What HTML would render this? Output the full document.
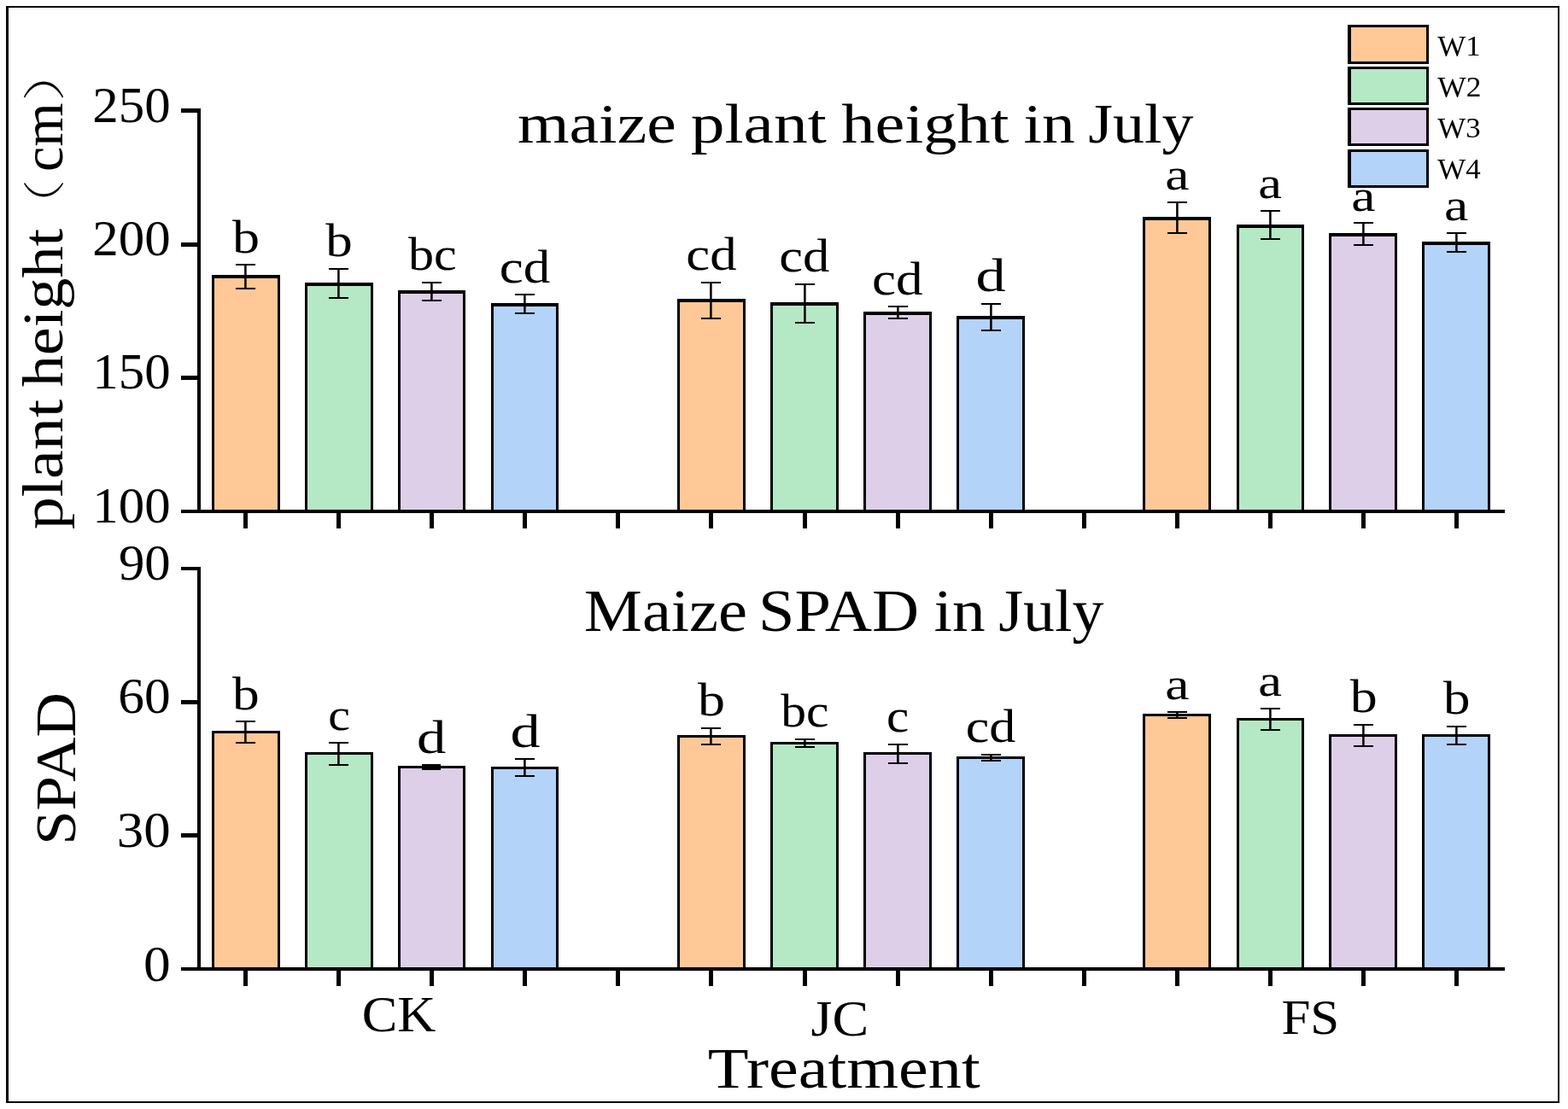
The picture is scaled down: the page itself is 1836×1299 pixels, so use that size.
<!DOCTYPE html>
<html lang="en"><head><meta charset="utf-8"><title>Maize plant height and SPAD in July</title>
<style>html,body{margin:0;padding:0;background:#fff}body{width:1836px;height:1299px;overflow:hidden}svg{display:block;font-family:'Liberation Serif', 'Noto Serif CJK SC', serif;fill:#000}</style>
</head><body>
<svg role="img" aria-label="Maize plant height and SPAD in July by treatment" width="1836" height="1299" viewBox="0 0 1836 1299" shape-rendering="crispEdges">
<rect x="0" y="0" width="1836" height="1299" fill="#fff"/>
<path d="M7 7H1826V1292H7ZM10 9V1290H1824V9Z" fill="#000" fill-rule="evenodd"/>
<g id="height">
<path d="M249 323H327V598H249ZM794 351H872V598H794ZM1339 255H1417V598H1339Z" fill="#FFC896"/>
<path d="M358 332H436V598H358ZM903 355H981V598H903ZM1449 264H1526V598H1449Z" fill="#B5E8C5"/>
<path d="M467 341H544V598H467ZM1012 366H1090V598H1012ZM1557 274H1635V598H1557Z" fill="#DDCFE8"/>
<path d="M576 356H653V598H576ZM1121 371H1199V598H1121ZM1666 284H1744V598H1666Z" fill="#B4D3F9"/>
<path d="M248 322H251V598H248ZM325 322H328V598H325ZM248 322H328V326H248ZM793 350H796V598H793ZM870 350H873V598H870ZM793 350H873V354H793ZM1338 254H1341V598H1338ZM1415 254H1418V598H1415ZM1338 254H1418V258H1338ZM357 331H360V598H357ZM434 331H437V598H434ZM357 331H437V335H357ZM902 354H905V598H902ZM979 354H982V598H979ZM902 354H982V358H902ZM1448 263H1451V598H1448ZM1524 263H1527V598H1524ZM1448 263H1527V267H1448ZM466 340H469V598H466ZM542 340H545V598H542ZM466 340H545V344H466ZM1011 365H1014V598H1011ZM1088 365H1091V598H1088ZM1011 365H1091V369H1011ZM1556 273H1559V598H1556ZM1633 273H1636V598H1633ZM1556 273H1636V277H1556ZM575 355H578V598H575ZM651 355H654V598H651ZM575 355H654V359H575ZM1120 370H1123V598H1120ZM1197 370H1200V598H1197ZM1120 370H1200V374H1120ZM1665 283H1668V598H1665ZM1742 283H1745V598H1742ZM1665 283H1745V287H1665ZM276 309H298.5V311H276ZM276 337H298.5V339H276ZM385 314H407.5V316H385ZM385 348H407.5V350H385ZM494 330H516.5V332H494ZM494 351H516.5V353H494ZM603 344H625.5V346H603ZM603 366H625.5V368H603ZM821 330H843.5V332H821ZM821 372H843.5V374H821ZM931 332H953.5V334H931ZM931 377H953.5V379H931ZM1040 358H1062.5V360H1040ZM1040 372H1062.5V374H1040ZM1149 355H1171.5V357H1149ZM1149 386H1171.5V388H1149ZM1367 236H1389.5V238H1367ZM1367 272H1389.5V274H1367ZM1476 246H1498.5V248H1476ZM1476 279H1498.5V281H1476ZM1585 260H1607.5V262H1585ZM1585 286H1607.5V288H1585ZM1694 272H1716.5V274H1694ZM1694 294H1716.5V296H1694ZM231 127H235V601H231ZM212 597H1762V601H212ZM212 127H235V132H212ZM212 284H235V289H212ZM212 440H235V445H212ZM285 600H290V619H285ZM394 600H399V619H394ZM503 600H508V619H503ZM612 600H617V619H612ZM721 600H726V619H721ZM830 600H835V619H830ZM940 600H945V619H940ZM1049 600H1054V619H1049ZM1158 600H1163V619H1158ZM1267 600H1272V619H1267ZM1376 600H1381V619H1376ZM1485 600H1490V619H1485ZM1594 600H1599V619H1594ZM1703 600H1708V619H1703Z" fill="#000"/>
<path d="M286.15 309H288.65V339H286.15ZM395.15 314H397.65V350H395.15ZM504.15 330H506.65V353H504.15ZM613.15 344H615.65V368H613.15ZM831.15 330H833.65V374H831.15ZM941.15 332H943.65V379H941.15ZM1050.15 358H1052.65V374H1050.15ZM1159.15 355H1161.65V388H1159.15ZM1377.15 236H1379.65V274H1377.15ZM1486.15 246H1488.65V281H1486.15ZM1595.15 260H1597.65V288H1595.15ZM1704.15 272H1706.65V296H1704.15Z" fill="#000" shape-rendering="geometricPrecision"/>
<text y="143.2" font-size="59.7"><tspan x="108.36" textLength="91.37" lengthAdjust="spacingAndGlyphs">250</tspan></text>
<text y="299.1" font-size="59.7"><tspan x="108.36" textLength="91.37" lengthAdjust="spacingAndGlyphs">200</tspan></text>
<text y="454.8" font-size="59.7"><tspan x="108.32" textLength="91.41" lengthAdjust="spacingAndGlyphs">150</tspan></text>
<text y="612.2" font-size="59.7"><tspan x="108.32" textLength="91.41" lengthAdjust="spacingAndGlyphs">100</tspan></text>
<text y="295.7" font-size="54.96"><tspan x="272" textLength="31.99" lengthAdjust="spacingAndGlyphs">b</tspan></text>
<text y="300.2" font-size="54.96"><tspan x="381.25" textLength="31.45" lengthAdjust="spacingAndGlyphs">b</tspan></text>
<text y="316.45" font-size="54.96"><tspan x="478" textLength="56.73" lengthAdjust="spacingAndGlyphs">bc</tspan></text>
<text y="330.71" font-size="53.9"><tspan x="584.79" textLength="59.59" lengthAdjust="spacingAndGlyphs">cd</tspan></text>
<text y="315.96" font-size="54.26"><tspan x="803.3" textLength="59.33" lengthAdjust="spacingAndGlyphs">cd</tspan></text>
<text y="317.95" font-size="54.61"><tspan x="912.31" textLength="59.07" lengthAdjust="spacingAndGlyphs">cd</tspan></text>
<text y="344.95" font-size="54.61"><tspan x="1021.04" textLength="59.59" lengthAdjust="spacingAndGlyphs">cd</tspan></text>
<text y="340.71" font-size="54.26"><tspan x="1142.54" textLength="35.16" lengthAdjust="spacingAndGlyphs">d</tspan></text>
<text y="222.48" font-size="52.08"><tspan x="1364.27" textLength="28.3" lengthAdjust="spacingAndGlyphs">a</tspan></text>
<text y="232.48" font-size="52.08"><tspan x="1473.31" textLength="27.74" lengthAdjust="spacingAndGlyphs">a</tspan></text>
<text y="246.98" font-size="52.08"><tspan x="1582.27" textLength="28.3" lengthAdjust="spacingAndGlyphs">a</tspan></text>
<text y="257.72" font-size="52.6"><tspan x="1691.02" textLength="28.3" lengthAdjust="spacingAndGlyphs">a</tspan></text>
</g>
<g id="spad">
<path d="M249 857H327V1134H249ZM794 862H872V1134H794ZM1339 837H1417V1134H1339Z" fill="#FFC896"/>
<path d="M358 882H436V1134H358ZM903 870H981V1134H903ZM1449 842H1526V1134H1449Z" fill="#B5E8C5"/>
<path d="M467 898H544V1134H467ZM1012 882H1090V1134H1012ZM1557 861H1635V1134H1557Z" fill="#DDCFE8"/>
<path d="M576 899H653V1134H576ZM1121 887H1199V1134H1121ZM1666 861H1744V1134H1666Z" fill="#B4D3F9"/>
<path d="M248 856H251V1134H248ZM325 856H328V1134H325ZM248 856H328V859H248ZM793 861H796V1134H793ZM870 861H873V1134H870ZM793 861H873V864H793ZM1338 836H1341V1134H1338ZM1415 836H1418V1134H1415ZM1338 836H1418V839H1338ZM357 881H360V1134H357ZM434 881H437V1134H434ZM357 881H437V884H357ZM902 869H905V1134H902ZM979 869H982V1134H979ZM902 869H982V872H902ZM1448 841H1451V1134H1448ZM1524 841H1527V1134H1524ZM1448 841H1527V844H1448ZM466 897H469V1134H466ZM542 897H545V1134H542ZM466 897H545V900H466ZM1011 881H1014V1134H1011ZM1088 881H1091V1134H1088ZM1011 881H1091V884H1011ZM1556 860H1559V1134H1556ZM1633 860H1636V1134H1633ZM1556 860H1636V863H1556ZM575 898H578V1134H575ZM651 898H654V1134H651ZM575 898H654V901H575ZM1120 886H1123V1134H1120ZM1197 886H1200V1134H1197ZM1120 886H1200V889H1120ZM1665 860H1668V1134H1665ZM1742 860H1745V1134H1742ZM1665 860H1745V863H1665ZM276 844H298.5V846H276ZM276 869H298.5V871H276ZM385 869H407.5V871H385ZM385 895H407.5V897H385ZM494 895H516V902H494ZM603 888H625.5V890H603ZM603 908H625.5V910H603ZM821 852H843.5V854H821ZM821 871H843.5V873H821ZM931 865H953.5V867H931ZM931 874H953.5V876H931ZM1040 871H1062.5V873H1040ZM1040 893H1062.5V895H1040ZM1149 883H1171.5V885H1149ZM1149 890H1171.5V892H1149ZM1367 833H1389.5V835H1367ZM1367 840H1389.5V842H1367ZM1476 829H1498.5V831H1476ZM1476 854H1498.5V856H1476ZM1585 848H1607.5V850H1585ZM1585 873H1607.5V875H1585ZM1694 850H1716.5V852H1694ZM1694 871H1716.5V873H1694ZM231 664H235V1137H231ZM212 1133H1762V1137H212ZM212 664H235V668H212ZM212 820H235V825H212ZM212 976H235V981H212ZM285 1136H290V1155H285ZM394 1136H399V1155H394ZM503 1136H508V1155H503ZM612 1136H617V1155H612ZM721 1136H726V1155H721ZM830 1136H835V1155H830ZM940 1136H945V1155H940ZM1049 1136H1054V1155H1049ZM1158 1136H1163V1155H1158ZM1267 1136H1272V1155H1267ZM1376 1136H1381V1155H1376ZM1485 1136H1490V1155H1485ZM1594 1136H1599V1155H1594ZM1703 1136H1708V1155H1703Z" fill="#000"/>
<path d="M286.15 844H288.65V871H286.15ZM395.15 869H397.65V897H395.15ZM613.15 888H615.65V910H613.15ZM831.15 852H833.65V873H831.15ZM941.15 865H943.65V876H941.15ZM1050.15 871H1052.65V895H1050.15ZM1159.15 883H1161.65V892H1159.15ZM1377.15 833H1379.65V842H1377.15ZM1486.15 829H1488.65V856H1486.15ZM1595.15 848H1597.65V875H1595.15ZM1704.15 850H1706.65V873H1704.15Z" fill="#000" shape-rendering="geometricPrecision"/>
<text y="679.1" font-size="59.7"><tspan x="138.98" textLength="60.75" lengthAdjust="spacingAndGlyphs">90</tspan></text>
<text y="834.9" font-size="59.7"><tspan x="138.34" textLength="61.41" lengthAdjust="spacingAndGlyphs">60</tspan></text>
<text y="991.9" font-size="59.7"><tspan x="136.87" textLength="62.93" lengthAdjust="spacingAndGlyphs">30</tspan></text>
<text y="1148.6" font-size="59.7"><tspan x="168.08" textLength="31.74" lengthAdjust="spacingAndGlyphs">0</tspan></text>
<text y="830.85" font-size="55.04"><tspan x="272" textLength="31.72" lengthAdjust="spacingAndGlyphs">b</tspan></text>
<text y="855.21" font-size="53.65"><tspan x="384.22" textLength="25.7" lengthAdjust="spacingAndGlyphs">c</tspan></text>
<text y="881.96" font-size="54.26"><tspan x="488.1" textLength="34.34" lengthAdjust="spacingAndGlyphs">d</tspan></text>
<text y="874.96" font-size="53.9"><tspan x="597.54" textLength="35.16" lengthAdjust="spacingAndGlyphs">d</tspan></text>
<text y="838.2" font-size="54.96"><tspan x="817" textLength="31.99" lengthAdjust="spacingAndGlyphs">b</tspan></text>
<text y="850.95" font-size="54.61"><tspan x="914.25" textLength="56.22" lengthAdjust="spacingAndGlyphs">bc</tspan></text>
<text y="856.95" font-size="54.69"><tspan x="1037.93" textLength="26.28" lengthAdjust="spacingAndGlyphs">c</tspan></text>
<text y="869.45" font-size="54.96"><tspan x="1130.83" textLength="58.54" lengthAdjust="spacingAndGlyphs">cd</tspan></text>
<text y="818.72" font-size="53.12"><tspan x="1364.27" textLength="28.3" lengthAdjust="spacingAndGlyphs">a</tspan></text>
<text y="814.97" font-size="53.12"><tspan x="1473.31" textLength="27.74" lengthAdjust="spacingAndGlyphs">a</tspan></text>
<text y="834.46" font-size="53.9"><tspan x="1580.75" textLength="31.99" lengthAdjust="spacingAndGlyphs">b</tspan></text>
<text y="836.21" font-size="53.9"><tspan x="1690" textLength="31.45" lengthAdjust="spacingAndGlyphs">b</tspan></text>
</g>
<text y="167.1" font-size="66.52"><tspan x="605.94" textLength="185.94" lengthAdjust="spacingAndGlyphs">maize</tspan> <tspan x="808.81" textLength="158.92" lengthAdjust="spacingAndGlyphs">plant</tspan> <tspan x="985.36" textLength="196.11" lengthAdjust="spacingAndGlyphs">height</tspan> <tspan x="1198.45" textLength="60.21" lengthAdjust="spacingAndGlyphs">in</tspan> <tspan x="1274.27" textLength="123.23" lengthAdjust="spacingAndGlyphs">July</tspan></text>
<text y="739" font-size="69.01"><tspan x="683.84" textLength="191.25" lengthAdjust="spacingAndGlyphs">Maize</tspan> <tspan x="888.04" textLength="188.04" lengthAdjust="spacingAndGlyphs">SPAD</tspan> <tspan x="1093.45" textLength="60.21" lengthAdjust="spacingAndGlyphs">in</tspan> <tspan x="1169.27" textLength="123.23" lengthAdjust="spacingAndGlyphs">July</tspan></text>
<text y="1274.1" font-size="68.09"><tspan x="828.83" textLength="318.9" lengthAdjust="spacingAndGlyphs">Treatment</tspan></text>
<text y="1207.5" font-size="59.39"><tspan x="423.75" textLength="86.69" lengthAdjust="spacingAndGlyphs">CK</tspan></text>
<text y="1213.16" font-size="58.96"><tspan x="949.47" textLength="67.61" lengthAdjust="spacingAndGlyphs">JC</tspan></text>
<text y="1210.67" font-size="57.84"><tspan x="1500.48" textLength="67.75" lengthAdjust="spacingAndGlyphs">FS</tspan></text>
<path d="M1579 30H1672V74H1579Z" fill="#FFC896"/>
<path d="M1579 79H1672V122H1579Z" fill="#B5E8C5"/>
<path d="M1579 127H1672V170H1579Z" fill="#DDCFE8"/>
<path d="M1579 176H1672V219H1579Z" fill="#B4D3F9"/>
<path d="M1578 29H1673V75H1578ZM1582 32V72H1670V32ZM1578 78H1673V123H1578ZM1582 81V120H1670V81ZM1578 126H1673V171H1578ZM1582 129V168H1670V129ZM1578 175H1673V220H1578ZM1582 178V217H1670V178Z" fill="#000" fill-rule="evenodd"/>
<text y="64.69" font-size="34.18"><tspan x="1683.3" textLength="50.5" lengthAdjust="spacingAndGlyphs">W1</tspan></text>
<text y="112.89" font-size="34.18"><tspan x="1683.3" textLength="51.15" lengthAdjust="spacingAndGlyphs">W2</tspan></text>
<text y="161.09" font-size="34.18"><tspan x="1683.3" textLength="50.42" lengthAdjust="spacingAndGlyphs">W3</tspan></text>
<text y="209.29" font-size="34.18"><tspan x="1683.3" textLength="50.52" lengthAdjust="spacingAndGlyphs">W4</tspan></text>
<text transform="rotate(-90)" font-size="66.63"><tspan x="-620.39" y="73.25" textLength="152.61" lengthAdjust="spacingAndGlyphs">plant</tspan> <tspan x="-453.37" y="73.25" textLength="185.58" lengthAdjust="spacingAndGlyphs">height</tspan><tspan x="-268.85" y="69.55" font-size="49.47" font-weight="200" textLength="58.62" lengthAdjust="spacingAndGlyphs">（</tspan><tspan x="-201.06" y="73.25" textLength="80.66" lengthAdjust="spacingAndGlyphs">cm</tspan><tspan x="-119.11" y="69.55" font-size="49.47" font-weight="200" textLength="68.42" lengthAdjust="spacingAndGlyphs">）</tspan></text>
<text transform="rotate(-90)" font-size="68.7"><tspan x="-989.71" y="88" textLength="178.66" lengthAdjust="spacingAndGlyphs">SPAD</tspan></text>
</svg>
</body></html>
